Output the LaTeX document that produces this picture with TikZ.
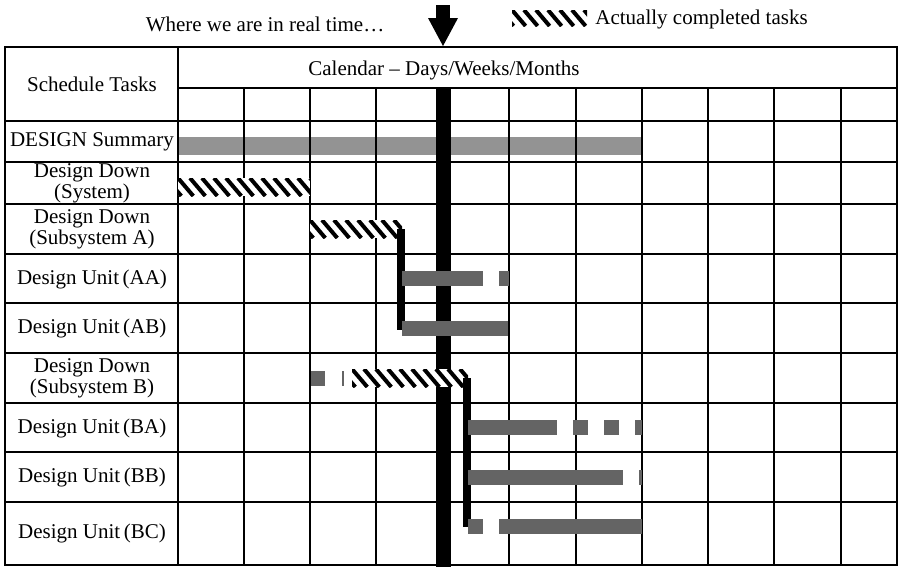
\documentclass[tikz,border=0pt]{standalone}
\usepackage{fontspec}
\setmainfont{Liberation Serif}
\usepackage{tikz}

\definecolor{plangray}{HTML}{646464}
\definecolor{sumgray}{HTML}{939393}

\tikzset{
    gridline/.style={line width=0.6pt},
    frameline/.style={line width=1pt},
    tasklabel/.style={align=center, inner sep=0pt, font=\fontsize{10.5}{9}\selectfont},
    planbar/.style={fill=plangray},
    sumbar/.style={fill=sumgray},
    link/.style={line width=3.6pt},
    nowline/.style={line width=7.5pt}
}

% x1, x2, top, height
\newcommand{\hatchbar}[4]{%
    \begin{scope}
        \clip (#1,#3) rectangle (#2,#3+#4);
        \fill[white] (#1,#3) rectangle (#2,#3+#4);
        \foreach \hx in {-24,-12,...,144}
            \draw[line width=2pt] (#1+\hx,#3) -- (#1+\hx+0.85*#4,#3+#4);
    \end{scope}}

\begin{document}
\begin{tikzpicture}[x=0.5pt, y=-0.5pt]
    \useasboundingbox (0,0) rectangle (898,569);

    \fill[sumgray] (178,137) rectangle (642,155);

    \foreach \cx in {244,310,376,443,509,576,642,708,774,841}
        \draw[gridline] (\cx,88) -- (\cx,565);
    \foreach \ry in {162,204,254,303,353,403,452,502}
        \draw[gridline] (5,\ry) -- (897,\ry);
    \draw[gridline] (178,88) -- (897,88);
    \draw[gridline] (5,121) -- (897,121);
    \draw[gridline] (178,47) -- (178,565);
    \draw[frameline] (5,47) rectangle (897,565);

    \coordinate (nowtop) at (443,88);
    \coordinate (nowbot) at (443,567);
    \draw[nowline] (nowtop) -- (nowbot);

    \fill (436,5) rectangle (450,19);
    \fill (428,18) -- (458,18) -- (443,46) -- cycle;

    \node[tasklabel] (where) at (265,24) {Where we are in real time\ldots};
    \hatchbar{512}{587}{10}{16}
    \node[tasklabel, anchor=west] (done) at (595,19) {Actually completed tasks};

    \node[tasklabel] (sched) at (92,84) {Schedule Tasks};
    \node[tasklabel] (cal) at (444,70) {Calendar -- Days/Weeks/Months};

    \node[tasklabel] (t1) at (92,142) {DESIGN Summary};
    \node[tasklabel] (t2) at (92,183) {Design Down\\(System)};
    \node[tasklabel] (t3) at (92,229) {Design Down\\(Subsystem A)};
    \node[tasklabel] (t4) at (92,279) {Design Unit\,(AA)};
    \node[tasklabel] (t5) at (92,328) {Design Unit\,(AB)};
    \node[tasklabel] (t6) at (92,378) {Design Down\\(Subsystem B)};
    \node[tasklabel] (t7) at (92,428) {Design Unit\,(BA)};
    \node[tasklabel] (t8) at (92,477) {Design Unit\,(BB)};
    \node[tasklabel] (t9) at (92,533) {Design Unit\,(BC)};

    \hatchbar{178}{310}{178}{18}
    \hatchbar{310}{402}{220}{18}

    \coordinate (aend) at (401,229);
    \coordinate (abstart) at (401,330);
    \draw[link] (aend) -- (abstart);

    \fill[planbar] (402,271) rectangle (483,286);
    \fill[planbar] (499,271) rectangle (509,286);
    \fill[planbar] (402,321) rectangle (508,336);

    \fill[planbar] (311,371) rectangle (325,386);
    \fill[planbar] (342,371) rectangle (344,386);
    \hatchbar{352}{468}{369}{18}

    \coordinate (bend) at (467,378);
    \coordinate (bcstart) at (467,527);
    \draw[link] (bend) -- (bcstart);

    \fill[planbar] (468,420) rectangle (557,435);
    \fill[planbar] (573,420) rectangle (588,435);
    \fill[planbar] (604,420) rectangle (619,435);
    \fill[planbar] (635,420) rectangle (642,435);

    \fill[planbar] (468,470) rectangle (623,485);
    \fill[planbar] (639,470) rectangle (642,485);

    \fill[planbar] (468,519) rectangle (483,534);
    \fill[planbar] (499,519) rectangle (642,534);

\end{tikzpicture}
\end{document}
